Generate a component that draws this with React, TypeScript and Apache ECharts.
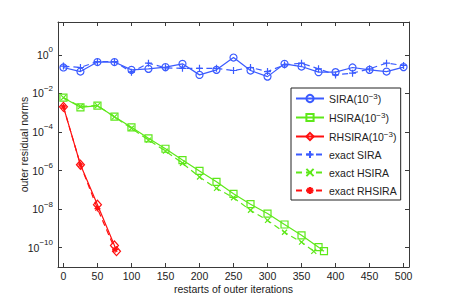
import React, { useEffect, useRef } from 'react';
import * as echarts from 'echarts';

// ---- data ----
const xTicks = [0, 50, 100, 150, 200, 250, 300, 350, 400, 450, 500];
const yTickExps = [-10, -8, -6, -4, -2, 0];

const siraX = [0, 25, 50, 75, 100, 125, 150, 175, 200, 225, 250, 275, 300, 325, 350, 375, 400, 425, 450, 475, 500];
const siraY = [0.22, 0.135, 0.42, 0.42, 0.166, 0.187, 0.23, 0.34, 0.091, 0.166, 0.72, 0.153, 0.074, 0.34, 0.246, 0.126, 0.126, 0.22, 0.166, 0.135, 0.23];
const exactSiraY = [0.26, 0.22, 0.45, 0.45, 0.126, 0.37, 0.21, 0.2, 0.2, 0.2, 0.153, 0.22, 0.135, 0.3, 0.37, 0.187, 0.091, 0.112, 0.187, 0.37, 0.28];

const hsiraX = [0, 25, 50, 75, 100, 125, 150, 175, 200, 225, 250, 275, 300, 325, 350, 375, 383];
const hsiraY = [6.0e-3, 1.9e-3, 2.3e-3, 6.2e-4, 1.74e-4, 4.7e-5, 1.35e-5, 3.5e-6, 9.5e-7, 2.6e-7, 6.2e-8, 1.8e-8, 5.9e-9, 1.6e-9, 4.4e-10, 1.07e-10, 6.6e-11];
const exactHsiraX = [0, 25, 50, 75, 100, 125, 150, 175, 200, 225, 250, 275, 300, 325, 350, 368];
const exactHsiraY = [6.0e-3, 2.1e-3, 2.3e-3, 6.0e-4, 1.55e-4, 3.8e-5, 1.02e-5, 2.4e-6, 4.6e-7, 1.2e-7, 3.9e-8, 8.7e-9, 2.6e-9, 6.3e-10, 1.95e-10, 6.5e-11];

const rhsiraX = [0, 25, 50, 75, 78];
const rhsiraY = [2.0e-3, 2.0e-6, 1.7e-8, 1.3e-10, 6.6e-11];
const exactRhsiraX = [0, 25, 50, 76];
const exactRhsiraY = [2.0e-3, 2.0e-6, 1.07e-8, 7.9e-11];

const BLUE = '#3b5bff';
const GREEN = '#5ee81a';
const RED = '#ff1010';
const FONT = '"Liberation Sans", Arial, Helvetica, sans-serif';
const FS = 10.5;

const PLUS = 'path://M5,0L5,10M0,5L10,5';
const CROSS = 'path://M0,0L10,10M10,0L0,10';
const STAR = 'path://M5,0L5,10M0,5L10,5M1.5,1.5L8.5,8.5M8.5,1.5L1.5,8.5';

const zip = (xs: number[], ys: number[]) => xs.map((x, i) => [x, ys[i]]);

function sup(exp: number) {
  return exp < 0 ? '\u2212' + -exp : String(exp);
}

export default function App() {
  const ref = useRef<HTMLDivElement>(null);
  useEffect(() => {
    if (!ref.current) return;
    const chart = echarts.init(ref.current, undefined, { renderer: 'svg' });
    const yMin = 1e-11;
    const yMax = Math.pow(10, 1.7);
    const xMin = -8;
    const xMax = 508;
    const tickVals = yTickExps.map((e) => Math.pow(10, e));
    const axisColor = '#3a3a3a';

    const mkSeries = (
      name: string,
      data: number[][],
      color: string,
      symbol: string,
      size: number | number[],
      dashed: boolean
    ) => ({
      name,
      type: 'line',
      data,
      symbol,
      symbolSize: size,
      showSymbol: true,
      lineStyle: { color, width: 1.2, type: dashed ? [6, 4] : 'solid' },
      itemStyle: { color: 'transparent', borderColor: color, borderWidth: 1.2 },
      emphasis: { disabled: true },
      xAxisIndex: 0,
      yAxisIndex: 0,
    });

    const legendNames: Record<string, string> = {
      SIRA: '{t|SIRA(10}{e|\u22123}{t|)}',
      HSIRA: '{t|HSIRA(10}{e|\u22123}{t|)}',
      RHSIRA: '{t|RHSIRA(10}{e|\u22123}{t|)}',
      'exact SIRA': '{t|exact SIRA}',
      'exact HSIRA': '{t|exact HSIRA}',
      'exact RHSIRA': '{t|exact RHSIRA}',
    };

    chart.setOption({
      animation: false,
      backgroundColor: '#fff',
      textStyle: { fontFamily: FONT },
      grid: { left: 58, top: 22, right: 43, bottom: 33, containLabel: false },
      xAxis: [
        {
          type: 'value',
          min: xMin,
          max: xMax,
          position: 'bottom',
          name: 'restarts of outer iterations',
          nameLocation: 'middle',
          nameGap: 16.5,
          nameMoveOverlap: false,
          nameTextStyle: { fontFamily: FONT, fontSize: FS, color: '#222', lineHeight: 10 },
          axisLine: { show: true, onZero: false, lineStyle: { color: axisColor, width: 1 } },
          axisTick: { show: true, inside: true, length: 4, customValues: xTicks, lineStyle: { color: axisColor } },
          axisLabel: { customValues: xTicks, fontFamily: FONT, fontSize: FS, color: '#222', margin: 3.5, lineHeight: 10 },
          splitLine: { show: false },
        },
        {
          type: 'value',
          min: xMin,
          max: xMax,
          position: 'top',
          axisLine: { show: true, onZero: false, lineStyle: { color: axisColor, width: 1 } },
          axisTick: { show: true, inside: true, length: 4, customValues: xTicks, lineStyle: { color: axisColor } },
          axisLabel: { show: false },
          splitLine: { show: false },
        },
      ],
      yAxis: [
        {
          type: 'log',
          logBase: 10,
          min: yMin,
          max: yMax,
          position: 'left',
          name: 'outer residual norms',
          nameLocation: 'middle',
          nameGap: 29,
          nameMoveOverlap: false,
          nameTextStyle: { fontFamily: FONT, fontSize: FS, color: '#222' },
          axisLine: { show: true, onZero: false, lineStyle: { color: axisColor, width: 1 } },
          axisTick: { show: true, inside: true, length: 4, customValues: tickVals, lineStyle: { color: axisColor } },
          axisLabel: {
            customValues: tickVals,
            margin: 5,
            formatter: (v: number) => {
              const e = Math.round(Math.log10(v));
              return '{b|10}{e|' + sup(e) + '}';
            },
            rich: {
              b: { fontFamily: FONT, fontSize: FS, color: '#222', lineHeight: 18 },
              e: { fontFamily: FONT, fontSize: 8, color: '#222', verticalAlign: 'top', lineHeight: 10 },
            },
          },
          splitLine: { show: false },
        },
        {
          type: 'log',
          logBase: 10,
          min: yMin,
          max: yMax,
          position: 'right',
          axisLine: { show: true, onZero: false, lineStyle: { color: axisColor, width: 1 } },
          axisTick: { show: true, inside: true, length: 4, customValues: tickVals, lineStyle: { color: axisColor } },
          axisLabel: { show: false },
          splitLine: { show: false },
        },
      ],
      legend: {
        orient: 'vertical',
        left: 291,
        top: 88,
        padding: [4, 4, 4, 4],
        itemGap: 7,
        itemWidth: 28,
        itemHeight: 9,
        backgroundColor: '#fff',
        borderColor: '#222',
        borderWidth: 1,
        borderRadius: 0,
        selectedMode: false,
        data: ['SIRA', 'HSIRA', 'RHSIRA', 'exact SIRA', 'exact HSIRA', 'exact RHSIRA'],
        formatter: (name: string) => legendNames[name] || name,
        textStyle: {
          fontFamily: FONT,
          fontSize: FS,
          color: '#222',
          rich: {
            t: { fontFamily: FONT, fontSize: FS, color: '#222', lineHeight: 13 },
            e: { fontFamily: FONT, fontSize: 8, color: '#222', verticalAlign: 'top', lineHeight: 8 },
          },
        },
      },
      series: [
        mkSeries('SIRA', zip(siraX, siraY), BLUE, 'circle', 7, false),
        mkSeries('HSIRA', zip(hsiraX, hsiraY), GREEN, 'rect', 7, false),
        mkSeries('RHSIRA', zip(rhsiraX, rhsiraY), RED, 'diamond', [8, 9], false),
        mkSeries('exact SIRA', zip(siraX, exactSiraY), BLUE, PLUS, 7, true),
        mkSeries('exact HSIRA', zip(exactHsiraX, exactHsiraY), GREEN, CROSS, 5, true),
        mkSeries('exact RHSIRA', zip(exactRhsiraX, exactRhsiraY), RED, STAR, 6, true),
      ],
    });
    return () => chart.dispose();
  }, []);
  return (
    <div
      ref={ref}
      style={{ position: 'absolute', left: 0, top: 0, width: 452, height: 300 }}
    />
  );
}
